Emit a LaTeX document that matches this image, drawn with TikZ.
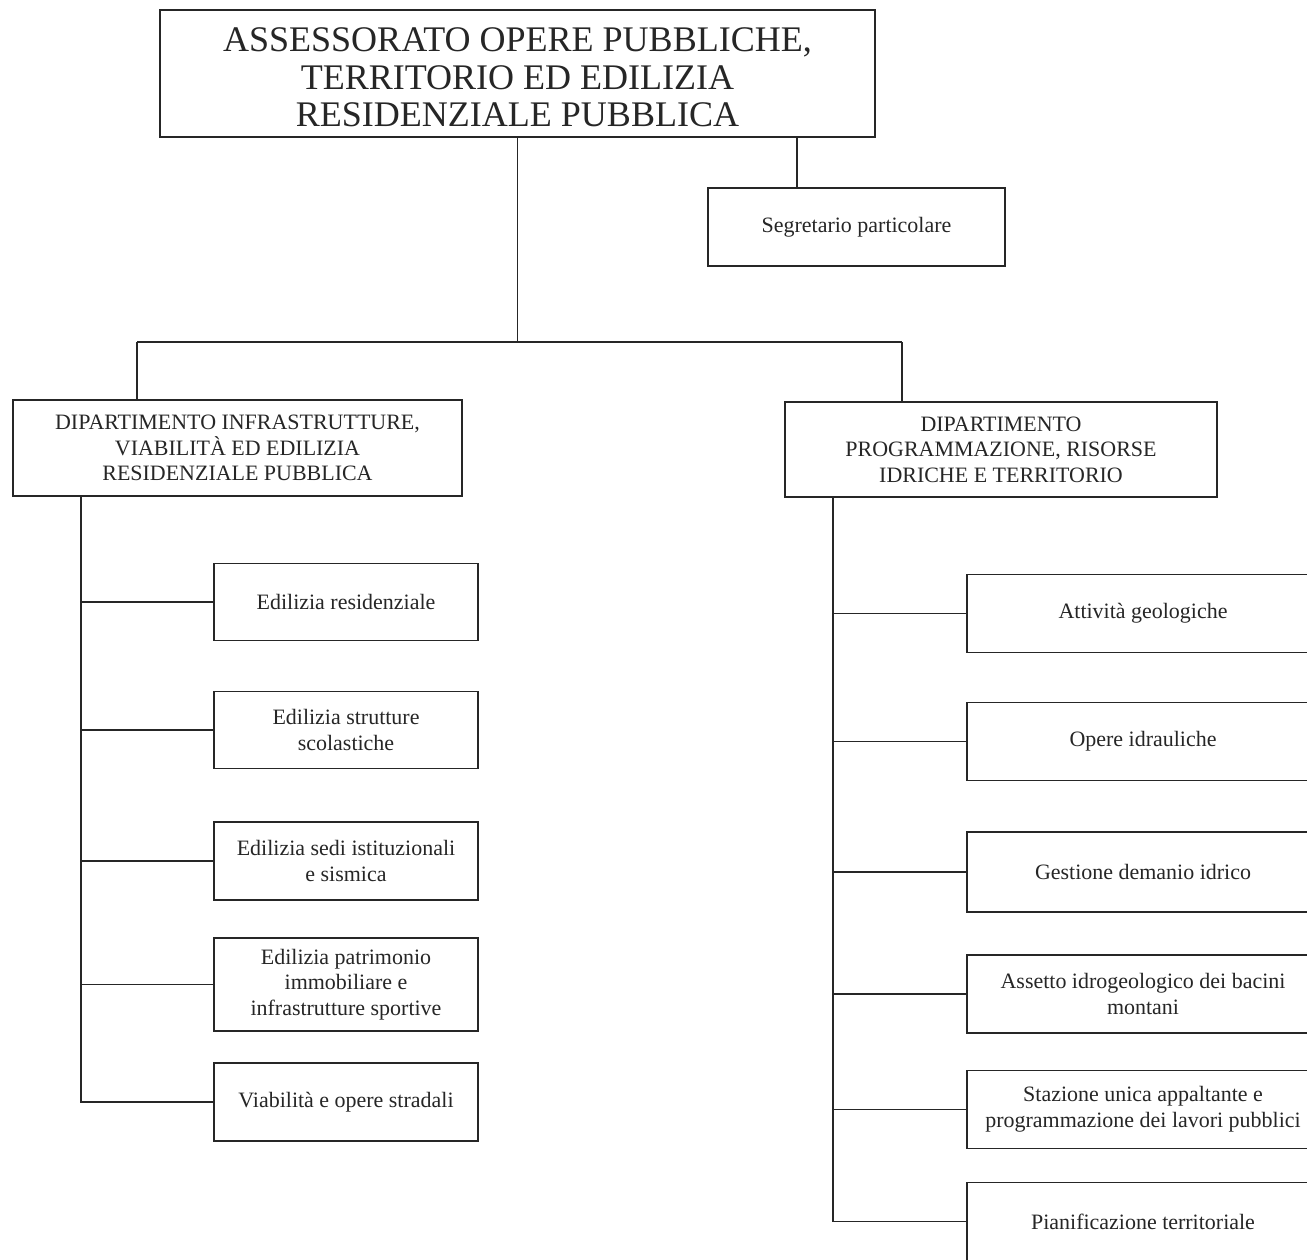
\documentclass[tikz,border=0pt]{standalone}
\usepackage{fontspec}
\setmainfont{Liberation Serif}
\begin{document}
\begin{tikzpicture}[x=0.02cm,y=-0.02cm,line width=0.8pt,color=black!85,
  box/.style={draw,rectangle,align=center,inner sep=0pt,font=\fontsize{12.5}{14.6}\selectfont},
  unit/.style={box,minimum width=5.28cm,minimum height=1.54cm},
  office/.style={box,minimum width=7.04cm,minimum height=1.56cm}]
\fill[white] (0,0) rectangle (1307,1259);
\useasboundingbox (0,0) rectangle (1307,1259);
\node (A) at (517.5,73.5) [box,minimum width=14.3cm,minimum height=2.54cm,text height=61pt,font=\fontsize{20.5}{21.4}\selectfont] {ASSESSORATO OPERE PUBBLICHE,\\TERRITORIO ED EDILIZIA\\RESIDENZIALE PUBBLICA};
\node (B) at (856.5,227) [box,minimum width=5.94cm,minimum height=1.56cm] {Segretario particolare};
\node (C) at (237.5,448) [box,minimum width=8.98cm,minimum height=1.92cm] {DIPARTIMENTO INFRASTRUTTURE,\\VIABILITÀ ED EDILIZIA\\RESIDENZIALE PUBBLICA};
\node (D) at (1001,449.5) [box,minimum width=8.64cm,minimum height=1.9cm] {DIPARTIMENTO\\PROGRAMMAZIONE, RISORSE\\IDRICHE E TERRITORIO};
\node (E1) at (346,602) [unit] {Edilizia residenziale};
\node (E2) at (346,730) [unit] {Edilizia strutture\\scolastiche};
\node (E3) at (346,861) [unit,minimum height=1.56cm] {Edilizia sedi istituzionali\\e sismica};
\node (E4) at (346,984.5) [unit,minimum height=1.86cm] {Edilizia patrimonio\\immobiliare e\\infrastrutture sportive};
\node (E5) at (346,1102) [unit,minimum height=1.56cm] {Viabilità e opere stradali};
\node (F1) at (1143,613.5) [office] {Attività geologiche};
\node (F2) at (1143,741.5) [office] {Opere idrauliche};
\node (F3) at (1143,872) [office,minimum height=1.6cm] {Gestione demanio idrico};
\node (F4) at (1143,994) [office] {Assetto idrogeologico dei bacini\\montani};
\node (F5) at (1143,1109.5) [office] {Stazione unica appaltante e\\programmazione dei lavori pubblici};
\node (F6) at (1143,1221.5) [office] {Pianificazione territoriale};
\coordinate (JL) at (137,342);
\coordinate (JR) at (902,342);
\coordinate (JS) at (797,137);
\coordinate (SL) at (81,496);
\coordinate (SR) at (833,497);
\draw (A.south) -- (A.south |- JL);
\draw (JL) -- (JR);
\draw (JL) -- (JL |- C.north);
\draw (JR) -- (JR |- D.north);
\draw (JS) -- (JS |- B.north);
\foreach \n in {1,...,5} \draw (SL) |- (E\n.west);
\foreach \n in {1,...,6} \draw (SR) |- (F\n.west);
\end{tikzpicture}
\end{document}
